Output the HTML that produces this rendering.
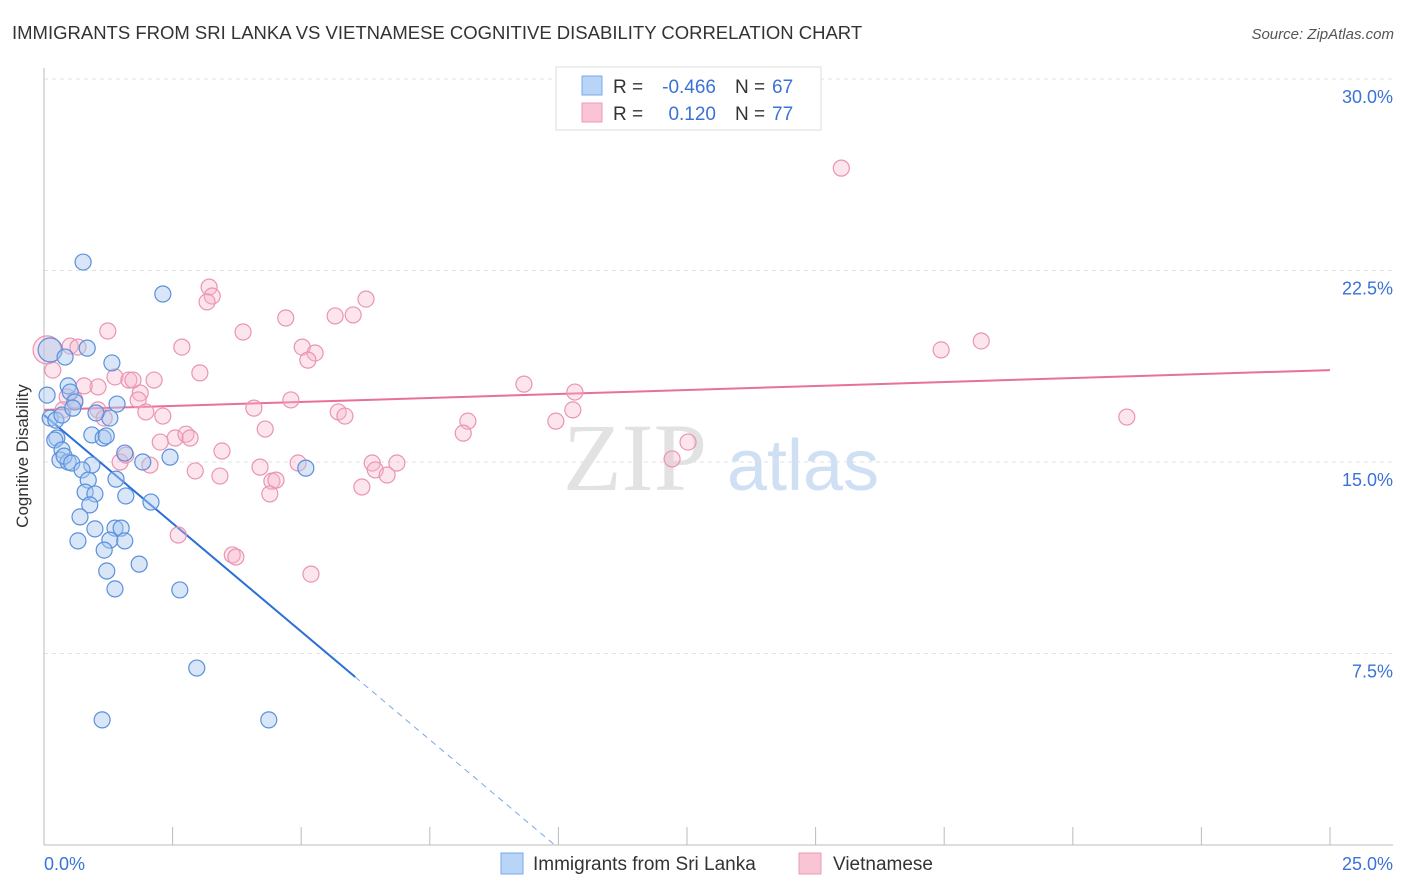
<!DOCTYPE html>
<html><head><meta charset="utf-8"><style>
body{margin:0;background:#fff;font-family:"Liberation Sans",sans-serif;}
svg{display:block}
</style></head><body>
<svg id="chart" width="1406" height="892" xmlns="http://www.w3.org/2000/svg">
<text x="12" y="39" font-size="18.5" fill="#333">IMMIGRANTS FROM SRI LANKA VS VIETNAMESE COGNITIVE DISABILITY CORRELATION CHART</text>
<text x="1394" y="39" font-size="15" fill="#555" font-style="italic" text-anchor="end">Source: ZipAtlas.com</text>
<text x="28" y="456" font-size="17" fill="#333" text-anchor="middle" transform="rotate(-90 28 456)">Cognitive Disability</text>
<g><text x="635" y="490" font-size="96" fill="#e2e2e2" font-family="Liberation Serif,serif" text-anchor="middle">ZIP</text><text x="803" y="490" font-size="72" fill="#cfe0f4" text-anchor="middle">atlas</text></g>
<g id="grid"></g><g id="axes"></g><g id="trend"></g><g id="points"></g>
<g>
<rect x="556" y="67" width="265" height="63" fill="#fff" stroke="#ddd"/>
<rect x="582" y="76" width="20" height="19" fill="#b8d4f6" stroke="#7aa8e6"/>
<rect x="582" y="103" width="20" height="19" fill="#f9c4d4" stroke="#ec9ab6"/>
<text x="613" y="93" font-size="19" fill="#333">R =</text>
<text x="716" y="93" font-size="19" fill="#3a72d8" text-anchor="end">-0.466</text>
<text x="735" y="93" font-size="19" fill="#333">N =</text>
<text x="772" y="93" font-size="19" fill="#3a72d8">67</text>
<text x="613" y="120" font-size="19" fill="#333">R =</text>
<text x="716" y="120" font-size="19" fill="#3a72d8" text-anchor="end">0.120</text>
<text x="735" y="120" font-size="19" fill="#333">N =</text>
<text x="772" y="120" font-size="19" fill="#3a72d8">77</text>
</g>
<g>
<rect x="501" y="853" width="22" height="21" fill="#b8d4f6" stroke="#7aa8e6"/>
<text x="533" y="870" font-size="19" fill="#333">Immigrants from Sri Lanka</text>
<rect x="799" y="853" width="22" height="21" fill="#f9c4d4" stroke="#ec9ab6"/>
<text x="833" y="870" font-size="19" fill="#333">Vietnamese</text>
</g>
</svg>
<script>
const yTicks=[7.5,15,22.5,30];
const yTickLabels=["7.5%","15.0%","22.5%","30.0%"];
const xTickLabels=["0.0%","25.0%"];
const blueX=[.12,.41,.76,2.31,.84,1.32,.06,.47,.51,.12,.23,.35,.60,.56,1.42,1.28,1.01,.93,1.15,1.21,.25,.21,.35,.31,.47,.39,.54,.93,1.92,2.45,1.57,5.09,.74,.86,1.40,.80,.99,1.59,2.08,.89,.70,.99,1.38,1.50,.66,1.28,1.57,1.17,1.85,1.22,1.38,2.64,2.97,1.13,4.37];
const blueY=[19.39,19.11,22.83,21.58,19.46,18.88,17.62,17.98,17.74,16.72,16.64,16.84,17.35,17.11,17.27,16.72,16.92,16.06,15.94,16.02,15.94,15.86,15.47,15.08,15.00,15.23,14.96,14.88,15.00,15.19,15.35,14.76,14.69,14.29,14.33,13.82,13.75,13.67,13.43,13.32,12.85,12.38,12.41,12.41,11.91,11.94,11.91,11.55,11.00,10.73,10.03,9.99,6.93,4.90,4.90];
const pinkX=[.06,.17,1.24,.51,.66,2.68,3.21,3.27,3.17,3.87,4.70,5.66,6.01,6.26,5.02,5.27,5.13,3.03,1.38,1.65,1.73,2.14,1.05,1.87,.78,.45,.60,1.83,1.98,2.31,4.08,4.80,5.72,5.85,9.33,10.32,10.28,9.95,8.24,8.15,12.52,12.21,15.50,17.44,18.22,21.05,1.05,1.17,.37,2.55,2.76,2.84,2.26,4.30,3.46,1.48,1.59,2.06,2.94,3.42,4.20,4.94,4.43,4.51,4.39,6.38,6.44,6.67,6.86,6.18,2.61,3.66,3.73,5.19];
const pinkY=[19.39,18.60,20.13,19.54,19.50,19.50,21.85,21.50,21.27,20.09,20.64,20.72,20.76,21.38,19.50,19.27,18.99,18.49,18.33,18.21,18.21,18.21,17.94,17.70,17.98,17.55,17.43,17.43,16.96,16.80,17.11,17.43,16.96,16.80,18.05,17.74,17.04,16.60,16.60,16.13,15.78,15.12,26.51,19.39,19.74,16.76,17.04,16.72,17.04,15.94,16.09,15.94,15.78,16.29,15.43,15.00,15.27,14.88,14.65,14.45,14.80,14.96,14.25,14.29,13.75,14.96,14.69,14.49,14.96,14.02,12.14,11.36,11.28,10.61];
const blueTrend=[16.84,-1.696];
const pinkTrend=[17.04,0.0624];
const X=v=>44+v/25*1286, Y=v=>845-v/30*766;
const NS="http://www.w3.org/2000/svg";
function mk(p,t,a){const e=document.createElementNS(NS,t);for(const k in a)e.setAttribute(k,a[k]);p.appendChild(e);return e;}
const grid=document.getElementById('grid'),axes=document.getElementById('axes');
yTicks.forEach((t,i)=>{
 const g=mk(grid,'line',{x1:44,x2:1393,y1:Y(t),y2:Y(t),stroke:'#e2e2e2','stroke-dasharray':'4,4'});
 
 
 const l=mk(axes,'text',{x:1393,y:Y(t)+24,'font-size':18,fill:'#3a72d8','text-anchor':'end'});
 l.textContent=yTickLabels[i];
 
 
});
const xa=mk(axes,'line',{x1:44,x2:1393,y1:845,y2:845,stroke:'#bbb'});


const ya=mk(axes,'line',{x1:44,x2:44,y1:68,y2:845,stroke:'#bbb'});


for(let i=0;i<=10;i++){const t=mk(axes,'line',{x1:X(i*2.5),x2:X(i*2.5),y1:827,y2:845,stroke:'#bbb'});
 
 }
[[0,'start',44],[25,'end',1393]].forEach((d,i)=>{const l=mk(axes,'text',{x:d[2],y:870,'font-size':18,fill:'#3a72d8','text-anchor':d[1]});l.textContent=xTickLabels[i];
 
 });
const tr=document.getElementById('trend');
const bEnd=6.05, bZero=-blueTrend[0]/blueTrend[1];
const b1=mk(tr,'line',{x1:X(0),y1:Y(blueTrend[0]),x2:X(bEnd),y2:Y(blueTrend[0]+blueTrend[1]*bEnd),stroke:'#2a6fd8','stroke-width':2});


const b2=mk(tr,'line',{x1:X(bEnd),y1:Y(blueTrend[0]+blueTrend[1]*bEnd),x2:X(bZero),y2:Y(0),stroke:'#7aa8e6','stroke-width':1,'stroke-dasharray':'6,5'});


const p1=mk(tr,'line',{x1:X(0),y1:Y(pinkTrend[0]),x2:X(25),y2:Y(pinkTrend[0]+pinkTrend[1]*25),stroke:'#e8709a','stroke-width':2});


const pts=document.getElementById('points');
pinkX.forEach((x,i)=>{const c=mk(pts,'circle',{cx:X(x),cy:Y(pinkY[i]),r:i==0?14:8,fill:'#f7b4ca','fill-opacity':0.35,stroke:'#ea94b2','stroke-width':1.2});
 
 });
blueX.forEach((x,i)=>{const c=mk(pts,'circle',{cx:X(x),cy:Y(blueY[i]),r:i==0?12:8,fill:'#a8c8f0','fill-opacity':0.45,stroke:'#5a90dc','stroke-width':1.2});
 
 });
</script>
</body></html>
